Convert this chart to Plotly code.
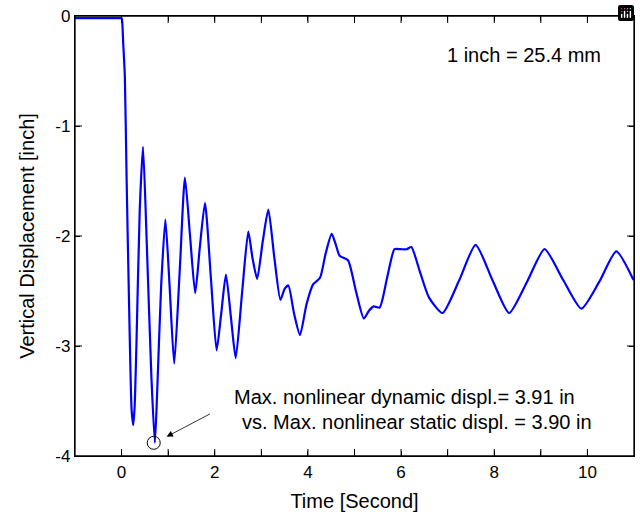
import plotly.graph_objects as go

# Time history (seconds) and vertical displacement (inch)
time_s = [-1.0, -0.05, 0.0, 0.015, 0.035, 0.07, 0.107, 0.163, 0.215, 0.25, 0.28, 0.32, 0.39, 0.46,
          0.54, 0.64, 0.715, 0.77, 0.85, 0.94, 1.03, 1.13, 1.25, 1.36, 1.47, 1.58,
          1.68, 1.79, 1.92, 2.04, 2.14, 2.24, 2.35, 2.45, 2.59, 2.72, 2.81, 2.91,
          3.03, 3.15, 3.28, 3.41, 3.50, 3.58, 3.70, 3.83, 3.97, 4.11, 4.26, 4.38,
          4.51, 4.60, 4.68, 4.86, 5.03, 5.20, 5.31, 5.41, 5.54, 5.70, 5.86, 5.99,
          6.12, 6.22, 6.40, 6.60, 6.89, 7.25, 7.60, 7.96, 8.32, 8.70, 9.08, 9.48,
          9.87, 10.25, 10.62, 10.99]
disp_in = [-0.02, -0.02, -0.02, -0.06, -0.245, -0.55, -1.46, -2.67, -3.58, -3.72, -3.55, -2.97, -1.76, -1.19,
           -2.06, -3.28, -3.88, -3.35, -2.45, -1.85, -2.45, -3.16, -2.30, -1.47, -2.00, -2.52,
           -2.10, -1.70, -2.40, -3.04, -2.70, -2.35, -2.75, -3.11, -2.50, -1.96, -2.20, -2.39,
           -2.05, -1.76, -2.20, -2.58, -2.48, -2.45, -2.70, -2.90, -2.62, -2.44, -2.38, -2.16,
           -1.98, -2.08, -2.18, -2.22, -2.50, -2.75, -2.68, -2.64, -2.65, -2.38, -2.12, -2.12,
           -2.12, -2.10, -2.32, -2.56, -2.70, -2.40, -2.08, -2.40, -2.70, -2.42, -2.12, -2.40,
           -2.66, -2.42, -2.14, -2.40]

peak_time = [0.69]
peak_disp = [-3.88]

x_range = [-1, 11]
y_range = [-4, 0]
x_tick_vals = list(range(-1, 12))
x_tick_text = ["", "0", "", "2", "", "4", "", "6", "", "8", "", "10", ""]
y_tick_vals = [-4, -3, -2, -1, 0]
y_tick_text = ["-4", "-3", "-2", "-1", "0"]

note_unit = "1 inch = 25.4 mm"
note_line1 = "Max. nonlinear dynamic displ.= 3.91 in"
note_line2 = "vs. Max. nonlinear static displ. = 3.90 in"

FONT = "Liberation Sans, Arial, Helvetica, sans-serif"
W, H = 640, 512
M = dict(l=75, r=6, t=16, b=56)
TICK_PX = 5

fig = go.Figure()
fig.add_trace(go.Scatter(x=time_s, y=disp_in, mode="lines",
                         line=dict(color="#0000ff", width=2.2, shape="spline", smoothing=0.6),
                         showlegend=False, hoverinfo="skip"))
fig.add_trace(go.Scatter(x=peak_time, y=peak_disp, mode="markers",
                         marker=dict(symbol="circle-open", size=13,
                                     color="black", line=dict(width=1, color="black")),
                         showlegend=False, hoverinfo="skip"))

# inward tick marks: line markers centred on the axis edges (outer half is clipped)
inner_x = x_tick_vals[1:-1]
inner_y = y_tick_vals[1:-1]
fig.add_trace(go.Scatter(x=inner_x + inner_x,
                         y=[y_range[0]] * len(inner_x) + [y_range[1]] * len(inner_x),
                         mode="markers", cliponaxis=True,
                         marker=dict(symbol="line-ns", size=2 * TICK_PX, color="black",
                                     line=dict(width=1, color="black")),
                         showlegend=False, hoverinfo="skip"))
fig.add_trace(go.Scatter(x=[x_range[0]] * len(inner_y) + [x_range[1]] * len(inner_y),
                         y=inner_y + inner_y,
                         mode="markers", cliponaxis=True,
                         marker=dict(symbol="line-ew", size=2 * TICK_PX, color="black",
                                     line=dict(width=1, color="black")),
                         showlegend=False, hoverinfo="skip"))

axis_common = dict(showgrid=False, zeroline=False, showline=True, linecolor="black",
                   linewidth=1.3, mirror="allticks", ticks="inside", ticklen=TICK_PX,
                   tickcolor="black", tickwidth=1, automargin=False,
                   tickfont=dict(family=FONT, size=17, color="black"))

fig.update_xaxes(range=x_range, tickmode="array", tickvals=x_tick_vals,
                 ticktext=x_tick_text,
                 title=dict(text="Time [Second]", font=dict(family=FONT, size=20, color="black")),
                 **axis_common)
fig.update_yaxes(range=y_range, tickmode="array", tickvals=y_tick_vals,
                 ticktext=y_tick_text,
                 title=dict(text="Vertical Displacement [inch]",
                            font=dict(family=FONT, size=20, color="black")),
                 **axis_common)

# axes box
fig.add_shape(type="rect", xref="paper", yref="paper", x0=0, x1=1, y0=0, y1=1,
              line=dict(color="black", width=1.3), layer="above")

fig.add_annotation(x=6.94, y=-0.355, xref="x", yref="y", text=note_unit,
                   showarrow=False, xanchor="left", yanchor="middle",
                   font=dict(family=FONT, size=20, color="black"))
fig.add_annotation(x=2.36, y=-3.46, xref="x", yref="y", text=note_line1,
                   showarrow=False, xanchor="left", yanchor="middle",
                   font=dict(family=FONT, size=20, color="black"))
fig.add_annotation(x=2.55, y=-3.69, xref="x", yref="y", text=note_line2,
                   showarrow=False, xanchor="left", yanchor="middle",
                   font=dict(family=FONT, size=20, color="black"))
fig.add_annotation(x=0.966, y=-3.825, ax=1.93, ay=-3.61, xref="x", yref="y",
                   axref="x", ayref="y", text="", showarrow=True,
                   arrowhead=2, arrowsize=1.6, arrowwidth=0.8, arrowcolor="black")

fig.update_layout(width=W, height=H, plot_bgcolor="white", paper_bgcolor="white",
                  margin=M, font=dict(family=FONT, color="black"),
                  modebar=dict(bgcolor="rgba(0,0,0,0)", color="rgba(0,0,0,0)",
                               activecolor="rgba(0,0,0,0)"))

fig.write_html("out.html",
               post_script="document.body.style.margin='0';document.body.style.overflow='hidden';")
